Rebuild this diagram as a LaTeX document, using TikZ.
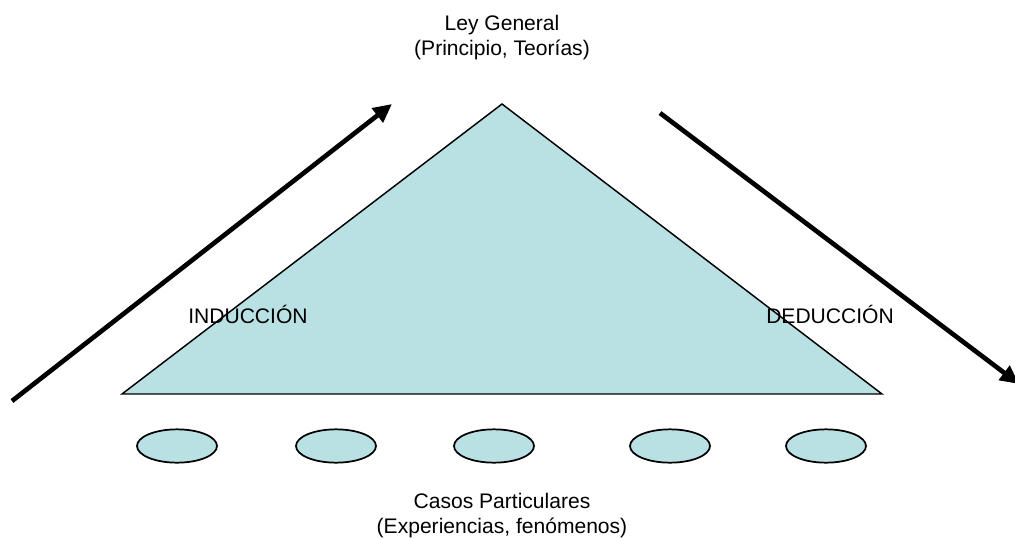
\documentclass[tikz,border=0pt]{standalone}
\usepackage{fontspec}
\setmainfont{Liberation Sans}
\usetikzlibrary{arrows.meta,shapes.geometric}
\definecolor{tri}{RGB}{185,224,227}
\begin{document}
\begin{tikzpicture}[x=0.75pt,y=-0.75pt,
  lbl/.style={font=\fontsize{15.8}{18.8}\selectfont,align=center,inner sep=0pt},
  caso/.style={ellipse,draw=black,line width=1.3pt,fill=tri,minimum width=60pt,minimum height=25pt,inner sep=0pt},
  flecha/.style={line width=3.5pt,-{Triangle[length=14pt,width=13pt]}}]
\useasboundingbox (0,0) rectangle (1015,539);
\coordinate (apex) at (502,104);
\coordinate (bl) at (122,394);
\coordinate (br) at (882,394);
\fill[tri] (apex) -- (bl) -- (br) -- cycle;
\draw[line width=1.1pt] (apex) -- (bl) -- (br) -- cycle;
\node[lbl] (ley) at (502,38) {Ley General\\(Principio, Teorías)};
\node[lbl,anchor=west] (ind) at (188,314) {INDUCCIÓN};
\node[lbl,anchor=west] (ded) at (766,314) {DEDUCCIÓN};
\node[lbl] (casos) at (502,516) {Casos Particulares\\(Experiencias, fenómenos)};
\foreach \n/\x in {1/177,2/336,3/494,4/670,5/826}
  \node[caso] (c\n) at (\x,446) {};
\coordinate (a1s) at (12,401);
\coordinate (a1e) at (392,104);
\coordinate (a2s) at (660,113);
\coordinate (a2e) at (1019,384);
\draw[flecha] (a1s) -- (a1e);
\draw[flecha] (a2s) -- (a2e);
\end{tikzpicture}
\end{document}
